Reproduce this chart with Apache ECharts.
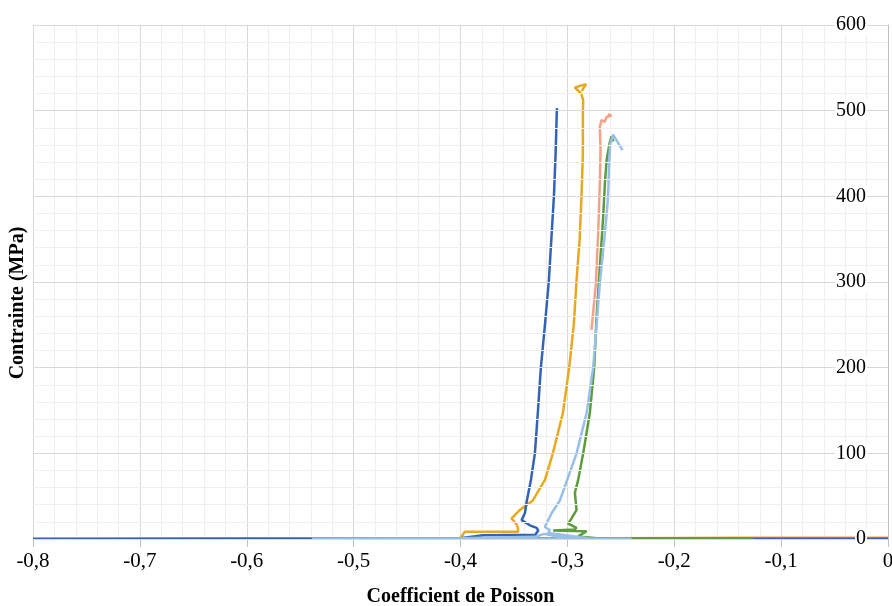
<!DOCTYPE html>
<html>
<head>
<meta charset="utf-8">
<script src="https://cdn.jsdelivr.net/npm/echarts@6/dist/echarts.min.js"></script>
<style>
html,body{margin:0;padding:0;background:#fff;}
#chart{width:892px;height:606px;}
</style>
</head>
<body>
<div id="chart"></div>
<script>
// x ticks (Poisson ratio) and y ticks (MPa)
const xTicks = [-0.8, -0.7, -0.6, -0.5, -0.4, -0.3, -0.2, -0.1, 0];
const yTicks = [0, 100, 200, 300, 400, 500, 600];

// Series values: [coefficient de Poisson, contrainte MPa]
const serieBleuFonce = [
  [0, 0.3], [-0.8, 0.3], [-0.40, 0.8], [-0.379, 4.5], [-0.330, 5], [-0.3273, 10],
  [-0.3288, 13], [-0.3351, 16], [-0.3428, 22], [-0.3398, 30], [-0.3379, 45],
  [-0.3341, 69], [-0.3304, 100], [-0.3275, 150], [-0.3248, 200], [-0.3210, 250],
  [-0.3173, 302], [-0.3150, 350], [-0.3126, 400], [-0.3110, 450], [-0.3098, 503]
];
const serieOrange = [
  [0, 1.4], [-0.13, 1.4], [-0.32, 0.5], [-0.40, 1], [-0.396, 8.5], [-0.346, 8.5],
  [-0.3463, 13], [-0.3475, 17], [-0.3522, 24], [-0.3444, 34], [-0.3323, 45],
  [-0.3210, 69], [-0.3136, 100], [-0.3042, 147], [-0.2983, 200], [-0.2940, 250],
  [-0.2914, 302], [-0.2885, 350], [-0.2868, 400], [-0.2855, 450], [-0.2855, 500],
  [-0.2852, 512], [-0.2870, 520], [-0.2930, 527], [-0.2825, 531], [-0.2865, 523]
];
const serieSaumon = [
  [-0.2774, 244], [-0.2733, 299], [-0.2712, 357], [-0.2696, 416], [-0.2690, 454],
  [-0.2696, 481], [-0.2703, 483], [-0.2681, 489], [-0.2650, 487], [-0.2633, 493],
  [-0.2587, 494], [-0.2620, 496]
];
const serieVert = [
  [-0.48, 0.3], [-0.126, 0.3], [-0.27, 0.6], [-0.29, 3], [-0.282, 9], [-0.3133, 9.8],
  [-0.2935, 11], [-0.2914, 13], [-0.2993, 18], [-0.2961, 24], [-0.2914, 34],
  [-0.2930, 54], [-0.2899, 69], [-0.2852, 100], [-0.2790, 147], [-0.2749, 200],
  [-0.2727, 259], [-0.2696, 318], [-0.2665, 376], [-0.2649, 415], [-0.2633, 442],
  [-0.2605, 462], [-0.2586, 470], [-0.2570, 464]
];
const serieBleuClair = [
  [-0.24, 0.3], [-0.539, 0.3], [-0.40, 1], [-0.33, 2.5], [-0.322, 6], [-0.305, 2],
  [-0.28, 0.8], [-0.318, 7], [-0.3164, 10.5], [-0.3211, 14], [-0.3148, 30],
  [-0.3070, 45], [-0.3002, 69], [-0.2914, 100], [-0.2820, 147], [-0.2759, 200],
  [-0.2743, 224], [-0.2696, 299], [-0.2649, 357], [-0.2625, 390], [-0.2618, 403],
  [-0.2609, 440], [-0.2600, 460], [-0.2572, 472], [-0.2484, 454]
];

// drawing order: orange first (under dark blue), then the others
const seriesList = [
  { data: serieOrange, color: '#e8a820' },
  { data: serieBleuFonce, color: '#3462b4' },
  { data: serieSaumon, color: '#f3a287' },
  { data: serieVert, color: '#5c9c3c' },
  { data: serieBleuClair, color: '#98bfe7' }
];

const FONT = '"Liberation Serif", "Times New Roman", serif';
const chart = echarts.init(document.getElementById('chart'), null, { renderer: 'canvas' });

chart.setOption({
  animation: false,
  backgroundColor: '#ffffff',
  grid: { left: 33, right: 4, top: 25, bottom: 67, containLabel: false, outerBoundsMode: 'none' },
  xAxis: {
    type: 'value',
    min: xTicks[0], max: xTicks[xTicks.length - 1], interval: 0.1,
    name: 'Coefficient de Poisson',
    nameLocation: 'middle', nameGap: 48,
    nameTextStyle: { fontFamily: FONT, fontSize: 20, fontWeight: 'bold', color: '#000' },
    axisLine: { show: true, onZero: false, lineStyle: { color: '#bfbfbf', width: 1 } },
    axisTick: { show: true, length: 8, lineStyle: { color: '#bfbfbf' } },
    axisLabel: {
      fontFamily: FONT, fontSize: 21, color: '#000', margin: 12,
      formatter: v => String(Math.round(v * 10) / 10).replace('.', ',')
    },
    splitLine: { show: true, lineStyle: { color: '#d9d9d9', width: 1 } },
    minorTick: { show: false, splitNumber: 5 },
    minorSplitLine: { show: true, lineStyle: { color: '#efefef', width: 1 } }
  },
  yAxis: {
    type: 'value', position: 'right',
    min: yTicks[0], max: yTicks[yTicks.length - 1], interval: 100,
    z: 5,
    axisLine: { show: true, lineStyle: { color: '#bfbfbf', width: 1 } },
    axisTick: { show: false },
    axisLabel: {
      inside: true, fontFamily: FONT, fontSize: 20, color: '#000', margin: 21,
      backgroundColor: '#ffffff', padding: [0, 1, 0, 1]
    },
    splitLine: { show: true, lineStyle: { color: '#d9d9d9', width: 1 } },
    minorTick: { show: false, splitNumber: 5 },
    minorSplitLine: { show: true, lineStyle: { color: '#efefef', width: 1 } }
  },
  graphic: [{
    type: 'text', left: 8, top: 'middle', rotation: Math.PI / 2,
    style: { text: 'Contrainte (MPa)', font: 'bold 20px ' + FONT, fill: '#000' }
  }],
  series: seriesList.map(s => ({
    type: 'line', data: s.data, showSymbol: false, symbol: 'none',
    lineStyle: { color: s.color, width: 2.5 }, z: 2
  }))
});
</script>
</body>
</html>
